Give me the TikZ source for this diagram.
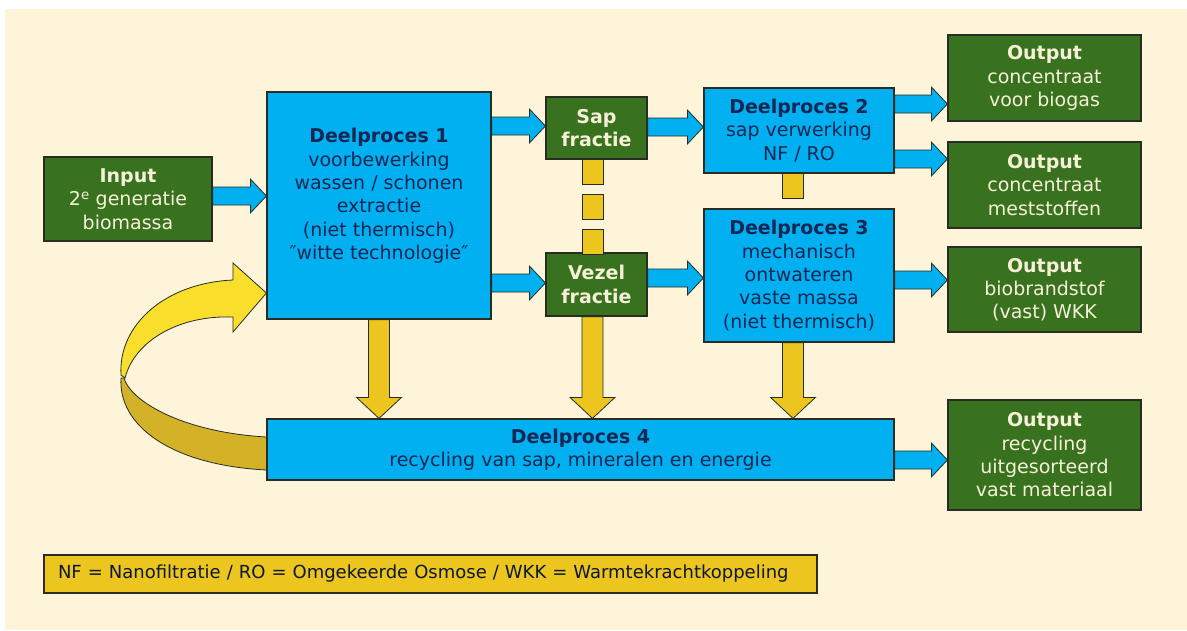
\documentclass[tikz,border=0pt]{standalone}
\usepackage{fontspec}
\setmainfont{DejaVu Sans}
\usetikzlibrary{calc}

\definecolor{cream}{RGB}{253,244,218}
\definecolor{procblue}{RGB}{0,176,240}
\definecolor{leafgreen}{RGB}{56,114,30}
\definecolor{navy}{RGB}{20,38,84}
\definecolor{paleink}{RGB}{246,240,216}
\definecolor{gold}{RGB}{236,198,30}
\definecolor{goldlight}{RGB}{250,222,44}
\definecolor{golddark}{RGB}{212,178,40}
\definecolor{edge}{RGB}{40,45,35}

\newcommand{\harrow}[3]{%
  \draw[flowarrow] let \p1=(#1), \p2=(#2), \p3=(0,#3) in
    (\x1,\y3+9) -- (\x2-16,\y3+9) -- (\x2-16,\y3+17) -- (\x2,\y3)
    -- (\x2-16,\y3-17) -- (\x2-16,\y3-9) -- (\x1,\y3-9) -- cycle;}
\newcommand{\varrow}[2]{%
  \draw[dropbox] let \p1=(#1), \p2=(#2) in
    (\x1-10.5,\y1) -- (\x1-10.5,\y2+21) -- (\x1-22.5,\y2+21) -- (\x1,\y2)
    -- (\x1+22.5,\y2+21) -- (\x1+10.5,\y2+21) -- (\x1+10.5,\y1) -- cycle;}

\begin{document}
\begin{tikzpicture}[x=1pt,y=-1pt,
    font=\fontsize{19}{23.3}\selectfont,
    bluebox/.style={draw=edge,line width=1.2pt,fill=procblue,text=navy,align=center,inner sep=0pt},
    greenbox/.style={draw=edge,line width=1.2pt,fill=leafgreen,text=paleink,align=center,inner sep=0pt},
    flowarrow/.style={draw=edge,line width=0.8pt,fill=procblue},
    dropbox/.style={draw=edge,line width=0.8pt,fill=gold}]
        \useasboundingbox (0,0) rectangle (1187,630);
        \fill[white] (0,0) rectangle (1187,630);
        \fill[cream] (5,9) rectangle (1187,630);

        \node[greenbox,minimum width=168,minimum height=84] (input) at (128,199)
            {\textbf{Input}\\ 2\textsuperscript{e} generatie\\ biomassa};
        \node[bluebox,minimum width=224,minimum height=227] (d1) at (379,205.5)
            {\textbf{Deelproces 1}\\ voorbewerking\\ wassen / schonen\\ extractie\\ (niet thermisch)\\ ″witte technologie″\\ \mbox{}};
        \node[greenbox,minimum width=101,minimum height=62] (sap) at (596.5,128)
            {\textbf{Sap}\\ \textbf{fractie}};
        \node[greenbox,minimum width=101,minimum height=63] (vezel) at (596.5,284.5)
            {\textbf{Vezel}\\ \textbf{fractie}};
        \node[bluebox,minimum width=190,minimum height=85] (d2) at (799,130.5)
            {\textbf{Deelproces 2}\\ sap verwerking\\ NF / RO};
        \node[bluebox,minimum width=190,minimum height=133] (d3) at (799,275.5)
            {\textbf{Deelproces 3}\\ mechanisch\\ ontwateren\\ vaste massa\\ (niet thermisch)};
        \node[bluebox,minimum width=627,minimum height=61] (d4) at (580.5,449.5)
            {\textbf{Deelproces 4}\\ recycling van sap, mineralen en energie};
        \node[greenbox,minimum width=193,minimum height=86] (out1) at (1044.5,78)
            {\textbf{Output}\\ concentraat\\ voor biogas};
        \node[greenbox,minimum width=193,minimum height=86] (out2) at (1044.5,185)
            {\textbf{Output}\\ concentraat\\ meststoffen};
        \node[greenbox,minimum width=193,minimum height=85] (out3) at (1044.5,289.5)
            {\textbf{Output}\\ biobrandstof\\ (vast) WKK};
        \node[greenbox,minimum width=193,minimum height=110] (out4) at (1044.5,455)
            {\textbf{Output}\\ recycling\\ uitgesorteerd\\ vast materiaal};
        \node[draw=edge,line width=1.2pt,fill=gold,text=navy!60!black,inner sep=0pt,
              minimum width=773,minimum height=38,text width=745,align=left,
              font=\fontsize{18}{22}\selectfont] (legend) at (430.5,574)
            {NF = Nanofiltratie / RO = Omgekeerde Osmose / WKK = Warmtekrachtkoppeling};

        \harrow{input.east}{d1.west}{196}
        \harrow{d1.east}{sap.west}{126}
        \harrow{d1.east}{vezel.west}{283}
        \harrow{sap.east}{d2.west}{127}
        \harrow{vezel.east}{d3.west}{278}
        \harrow{d2.east}{out1.west}{104}
        \harrow{d2.east}{out2.west}{159}
        \harrow{d3.east}{out3.west}{280}
        \harrow{d4.east}{out4.west}{460}

        \varrow{d1.south}{d4.north}
        \varrow{[xshift=-4pt]vezel.south}{d4.north}
        \varrow{[xshift=-6pt]d3.south}{d4.north}

        \foreach \k in {0,1,2} {
            \pgfmathsetmacro{\off}{35*\k}
            \draw[dropbox] ($(sap.south)+(-14.5,\off)$) rectangle ++(21,25);
        }
        \draw[dropbox] ($(d2.south)+(-16.5,0)$) rectangle ++(21,25);

        \fill[golddark,draw=edge,line width=0.8pt] (d4.west |- 0,437)
            .. controls (180,432) and (130,400) .. (124,378) -- (121,378)
            .. controls (118,425) and (170,465) .. (d4.west |- 0,470) -- cycle;
        \fill[goldlight,draw=edge,line width=0.8pt] (121,375)
            .. controls (118,325) and (165,283) .. (233,280) -- (233,263)
            -- (d1.west |- 0,293) -- (233,332) -- (233,317)
            .. controls (180,315) and (135,340) .. (125,378) -- cycle;
    \end{tikzpicture}
\end{document}
